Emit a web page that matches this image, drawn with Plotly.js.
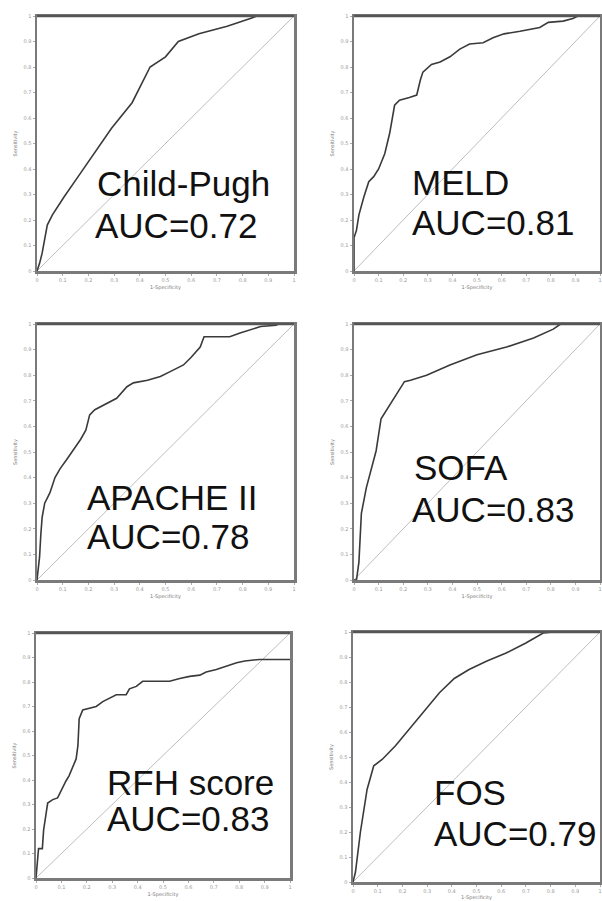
<!DOCTYPE html>
<html>
<head>
<meta charset="utf-8">
<script src="https://cdn.plot.ly/plotly-3.0.1.min.js"></script>
<style>html,body{margin:0;padding:0;background:#fff;}#chart{width:602px;height:901px;}</style>
</head>
<body>
<div id="chart"></div>
<script>
// ---- data ----
const names = ["Child-Pugh", "MELD", "APACHE II", "SOFA", "RFH score", "FOS"];
const aucs = ["0.72", "0.81", "0.78", "0.83", "0.83", "0.79"];
const diag = [0, 1];
const tickVals = [0, 0.1, 0.2, 0.3, 0.4, 0.5, 0.6, 0.7, 0.8, 0.9, 1];
const tickText = ["0", "0.1", "0.2", "0.3", "0.4", "0.5", "0.6", "0.7", "0.8", "0.9", "1"];

const childFpr = [0, 0.01, 0.02, 0.04, 0.06, 0.105, 0.16, 0.22, 0.29, 0.37, 0.44, 0.50, 0.55, 0.63, 0.74, 0.83, 0.855, 1];
const childTpr = [0, 0.03, 0.07, 0.18, 0.22, 0.29, 0.37, 0.46, 0.56, 0.66, 0.80, 0.84, 0.90, 0.93, 0.96, 0.99, 1.0, 1];

const meldFpr = [0, 0, 0.01, 0.02, 0.04, 0.06, 0.08, 0.10, 0.125, 0.145, 0.165, 0.185, 0.225, 0.255, 0.27, 0.28, 0.315, 0.35, 0.39, 0.43, 0.47, 0.525, 0.565, 0.61, 0.675, 0.755, 0.79, 0.85, 0.89, 0.91, 1];
const meldTpr = [0, 0.13, 0.16, 0.22, 0.29, 0.35, 0.37, 0.40, 0.46, 0.54, 0.65, 0.67, 0.68, 0.69, 0.75, 0.78, 0.81, 0.82, 0.84, 0.87, 0.89, 0.895, 0.915, 0.93, 0.94, 0.955, 0.975, 0.98, 0.99, 1.0, 1];

const apacheFpr = [0, 0.01, 0.015, 0.02, 0.03, 0.05, 0.07, 0.09, 0.115, 0.14, 0.17, 0.19, 0.20, 0.205, 0.225, 0.27, 0.31, 0.35, 0.375, 0.43, 0.48, 0.52, 0.57, 0.60, 0.635, 0.65, 0.75, 0.79, 0.84, 0.87, 0.93, 0.94, 1];
const apacheTpr = [0, 0.09, 0.18, 0.245, 0.30, 0.34, 0.40, 0.435, 0.47, 0.505, 0.55, 0.585, 0.62, 0.645, 0.665, 0.69, 0.71, 0.755, 0.77, 0.78, 0.795, 0.815, 0.84, 0.87, 0.91, 0.95, 0.95, 0.965, 0.98, 0.99, 0.995, 1.0, 1];

const sofaFpr = [0, 0.01, 0.02, 0.03, 0.05, 0.09, 0.11, 0.14, 0.18, 0.205, 0.23, 0.295, 0.39, 0.50, 0.62, 0.73, 0.81, 0.84, 1];
const sofaTpr = [0, 0.0, 0.07, 0.26, 0.36, 0.505, 0.63, 0.675, 0.74, 0.775, 0.78, 0.80, 0.84, 0.88, 0.91, 0.945, 0.98, 1.0, 1];

const rfhFpr = [0, 0.01, 0.025, 0.03, 0.046, 0.066, 0.085, 0.10, 0.118, 0.13, 0.145, 0.158, 0.165, 0.17, 0.184, 0.204, 0.237, 0.263, 0.29, 0.316, 0.355, 0.368, 0.395, 0.42, 0.474, 0.526, 0.566, 0.605, 0.645, 0.67, 0.71, 0.75, 0.79, 0.822, 0.88, 1.0];
const rfhTpr = [0, 0.12, 0.12, 0.196, 0.306, 0.32, 0.327, 0.36, 0.396, 0.417, 0.458, 0.486, 0.54, 0.65, 0.686, 0.692, 0.70, 0.72, 0.734, 0.748, 0.748, 0.772, 0.782, 0.803, 0.803, 0.803, 0.814, 0.823, 0.828, 0.841, 0.851, 0.865, 0.879, 0.886, 0.892, 0.892];

const fosFpr = [0, 0.01, 0.03, 0.057, 0.084, 0.118, 0.172, 0.227, 0.294, 0.35, 0.41, 0.47, 0.54, 0.62, 0.70, 0.77, 0.81, 1];
const fosTpr = [0, 0.04, 0.2, 0.37, 0.465, 0.49, 0.545, 0.61, 0.69, 0.757, 0.814, 0.85, 0.883, 0.916, 0.956, 0.996, 1.0, 1];

const fprs = [childFpr, meldFpr, apacheFpr, sofaFpr, rfhFpr, fosFpr];
const tprs = [childTpr, meldTpr, apacheTpr, sofaTpr, rfhTpr, fosTpr];

// ---- layout geometry (pixels) ----
const W = 602, H = 901;
const boxes = [
  {l: 37, r: 294, t: 16, b: 271},
  {l: 354, r: 600, t: 16, b: 271},
  {l: 37, r: 294, t: 324, b: 580},
  {l: 354, r: 600, t: 324, b: 580},
  {l: 36, r: 290, t: 633, b: 878},
  {l: 353, r: 600, t: 632, b: 882}
];
// label positions in axis-domain fractions: [nameX, nameY, aucX, aucY]
const labelPos = [
  [0.226, 0.345, 0.218, 0.180],
  [0.228, 0.349, 0.228, 0.192],
  [0.187, 0.322, 0.187, 0.168],
  [0.236, 0.439, 0.228, 0.277],
  [0.272, 0.390, 0.272, 0.241],
  [0.320, 0.360, 0.320, 0.196]
];

const traces = [];
const layout = {
  width: W, height: H,
  margin: {l: 0, r: 0, t: 0, b: 0},
  paper_bgcolor: '#fff', plot_bgcolor: '#fff',
  showlegend: false,
  annotations: [],
  shapes: []
};

const labelFont = {family: 'Liberation Sans, Arial, sans-serif', size: 35, color: '#111'};

boxes.forEach((bx, i) => {
  const n = i + 1;
  const xa = n === 1 ? 'x' : 'x' + n;
  const ya = n === 1 ? 'y' : 'y' + n;
  traces.push({
    x: diag, y: diag, xaxis: xa, yaxis: ya, mode: 'lines',
    line: {color: '#bdbdbd', width: 1}, hoverinfo: 'skip'
  });
  traces.push({
    x: fprs[i], y: tprs[i], xaxis: xa, yaxis: ya, mode: 'lines',
    line: {color: '#3a3a3a', width: 1.6}, name: names[i]
  });
  const common = {
    range: [0, 1], showgrid: false, zeroline: false,
    showline: true, mirror: true, linecolor: '#7a7a7a', linewidth: 2.5,
    ticks: 'outside', ticklen: 2, tickcolor: '#aaa', tickwidth: 1,
    tickvals: tickVals, ticktext: tickText,
    tickfont: {family: 'DejaVu Sans', size: 5, color: '#999'},
    fixedrange: true
  };
  layout['xaxis' + (n === 1 ? '' : n)] = Object.assign({}, common, {
    domain: [bx.l / W, bx.r / W],
    anchor: ya,
    title: {text: '1-Specificity', font: {family: 'DejaVu Sans', size: 5, color: '#777'}, standoff: 4}
  });
  layout['yaxis' + (n === 1 ? '' : n)] = Object.assign({}, common, {
    domain: [1 - bx.b / H, 1 - bx.t / H],
    anchor: xa,
    title: {text: 'Sensitivity', font: {family: 'DejaVu Sans', size: 5, color: '#777'}, standoff: 6}
  });
  const lp = labelPos[i];
  layout.annotations.push({
    xref: xa + ' domain', yref: ya + ' domain', x: lp[0], y: lp[1],
    xanchor: 'left', yanchor: 'middle', showarrow: false,
    text: names[i], font: labelFont
  });
  layout.annotations.push({
    xref: xa + ' domain', yref: ya + ' domain', x: lp[2], y: lp[3],
    xanchor: 'left', yanchor: 'middle', showarrow: false,
    text: 'AUC=' + aucs[i], font: labelFont
  });
  // darker top frame edge as in the original scans
  layout.shapes.push({
    type: 'line', xref: xa + ' domain', yref: ya + ' domain',
    x0: 0, x1: 1, y0: 1, y1: 1, line: {color: '#555', width: 2.5}
  });
});

Plotly.newPlot('chart', traces, layout, {displayModeBar: false, staticPlot: true});
</script>
</body>
</html>
